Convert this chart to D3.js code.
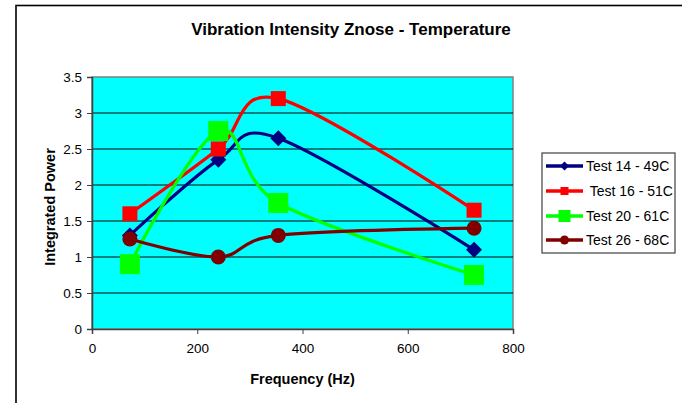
<!DOCTYPE html>
<html>
<head>
<meta charset="utf-8">
<script src="https://cdn.jsdelivr.net/npm/d3@7"></script>
<style>
  html, body { margin: 0; padding: 0; background: #fff; }
  svg { display: block; font-family: Arial, "Liberation Sans", sans-serif; }
</style>
</head>
<body>
<svg id="chart" width="682" height="403"></svg>
<script>
// Frequencies at which each test was measured (Hz)
const frequencies = [72, 240, 354, 726];

// Integrated power per test run
const test14 = [1.3, 2.35, 2.65, 1.1];
const test16 = [1.6, 2.5, 3.2, 1.65];
const test20 = [0.9, 2.75, 1.75, 0.75];
const test26 = [1.25, 1.0, 1.3, 1.4];

const seriesNames = ["Test 14 - 49C", " Test 16 - 51C", "Test 20 - 61C", "Test 26 - 68C"];
const seriesColors = ["#000080", "#FF0000", "#00FF00", "#800000"];
const seriesMarkers = ["diamond", "square", "square", "circle"];

const xTicks = [0, 200, 400, 600, 800];
const yTicks = [0, 0.5, 1, 1.5, 2, 2.5, 3, 3.5];

const titleText = "Vibration Intensity Znose - Temperature";
const xTitle = "Frequency (Hz)";
const yTitle = "Integrated Power";

const series = [test14, test16, test20, test26].map((vals, i) => ({
  name: seriesNames[i],
  color: seriesColors[i],
  marker: seriesMarkers[i],
  points: vals.map((v, j) => ({ f: frequencies[j], v }))
}));

const svg = d3.select("#chart");

// chart area frame
svg.append("rect")
  .attr("x", 16).attr("y", 5.5)
  .attr("width", 700).attr("height", 420)
  .attr("fill", "#fff").attr("stroke", "#000").attr("stroke-width", 1.6);

const plot = { left: 92, right: 513, top: 77, bottom: 329 };

const x = d3.scaleLinear().domain([0, 800]).range([plot.left, plot.right]);
const y = d3.scaleLinear().domain([0, 3.5]).range([plot.bottom, plot.top]);

// plot background
svg.append("rect")
  .attr("x", plot.left).attr("y", plot.top)
  .attr("width", plot.right - plot.left).attr("height", plot.bottom - plot.top)
  .attr("fill", "#00FFFF").attr("stroke", "#808080").attr("stroke-width", 1.5);

// horizontal gridlines
svg.append("g").selectAll("line")
  .data(yTicks.filter(t => t > 0 && t < 3.5))
  .join("line")
  .attr("x1", plot.left).attr("x2", plot.right)
  .attr("y1", d => y(d)).attr("y2", d => y(d))
  .attr("stroke", "#000").attr("stroke-width", 1);

// axes
const xAxis = svg.append("g")
  .attr("transform", `translate(0,${plot.bottom})`)
  .call(d3.axisBottom(x).tickValues(xTicks).tickFormat(d3.format("d")).tickSize(5).tickPadding(9));
const yAxis = svg.append("g")
  .attr("transform", `translate(${plot.left},0)`)
  .call(d3.axisLeft(y).tickValues(yTicks).tickFormat(d => String(d)).tickSize(5).tickPadding(5));

[xAxis, yAxis].forEach(g => {
  g.select(".domain").attr("stroke", "#404040").attr("stroke-width", 1.5);
  g.selectAll(".tick line").attr("stroke", "#404040");
  g.selectAll(".tick text")
    .attr("fill", "#000")
    .style("font-size", "13.5px")
    .style("font-family", "Arial, 'Liberation Sans', sans-serif");
});

// titles
svg.append("text")
  .attr("x", 351).attr("y", 35)
  .attr("text-anchor", "middle")
  .style("font-size", "17px").style("font-weight", "bold")
  .text(titleText);

svg.append("text")
  .attr("x", (plot.left + plot.right) / 2).attr("y", 384)
  .attr("text-anchor", "middle")
  .style("font-size", "14.5px").style("font-weight", "bold")
  .text(xTitle);

svg.append("text")
  .attr("transform", `translate(55,${(plot.top + plot.bottom) / 2 + 4}) rotate(-90)`)
  .attr("text-anchor", "middle")
  .style("font-size", "14.5px").style("font-weight", "bold")
  .text(yTitle);

// smoothed series lines
const line = d3.line()
  .x(d => x(d.f))
  .y(d => y(d.v))
  .curve(d3.curveCatmullRom.alpha(0));

function drawMarker(g, type, cx, cy, size, color) {
  const h = size / 2;
  if (type === "diamond") {
    g.append("path")
      .attr("d", `M${cx},${cy - h}L${cx + h},${cy}L${cx},${cy + h}L${cx - h},${cy}Z`)
      .attr("fill", color);
  } else if (type === "square") {
    g.append("rect")
      .attr("x", cx - h).attr("y", cy - h)
      .attr("width", size).attr("height", size)
      .attr("fill", color);
  } else {
    g.append("circle")
      .attr("cx", cx).attr("cy", cy).attr("r", h)
      .attr("fill", color);
  }
}

const plotMarkerSize = [16, 15, 20, 15];
const legendMarkerSize = [9, 8, 12, 9];

series.forEach((s, i) => {
  const g = svg.append("g");
  g.append("path")
    .attr("d", line(s.points))
    .attr("fill", "none")
    .attr("stroke", s.color)
    .attr("stroke-width", 3.2)
    .attr("stroke-linejoin", "round");
  s.points.forEach(p => drawMarker(g, s.marker, x(p.f), y(p.v), plotMarkerSize[i], s.color));
});

// legend
const legend = { left: 542, top: 153, width: 133, height: 100 };
svg.append("rect")
  .attr("x", legend.left).attr("y", legend.top)
  .attr("width", legend.width).attr("height", legend.height)
  .attr("fill", "#fff").attr("stroke", "#404040").attr("stroke-width", 1.2);

const legendRows = [166, 191, 216, 240];
series.forEach((s, i) => {
  const g = svg.append("g");
  const ly = legendRows[i];
  g.append("line")
    .attr("x1", 546).attr("x2", 583)
    .attr("y1", ly).attr("y2", ly)
    .attr("stroke", s.color).attr("stroke-width", 3.5);
  drawMarker(g, s.marker, 564.5, ly, legendMarkerSize[i], s.color);
  g.append("text")
    .attr("x", 586).attr("y", ly + 5)
    .attr("xml:space", "preserve")
    .style("white-space", "pre")
    .style("font-size", "14px")
    .text(s.name);
});
</script>
</body>
</html>
